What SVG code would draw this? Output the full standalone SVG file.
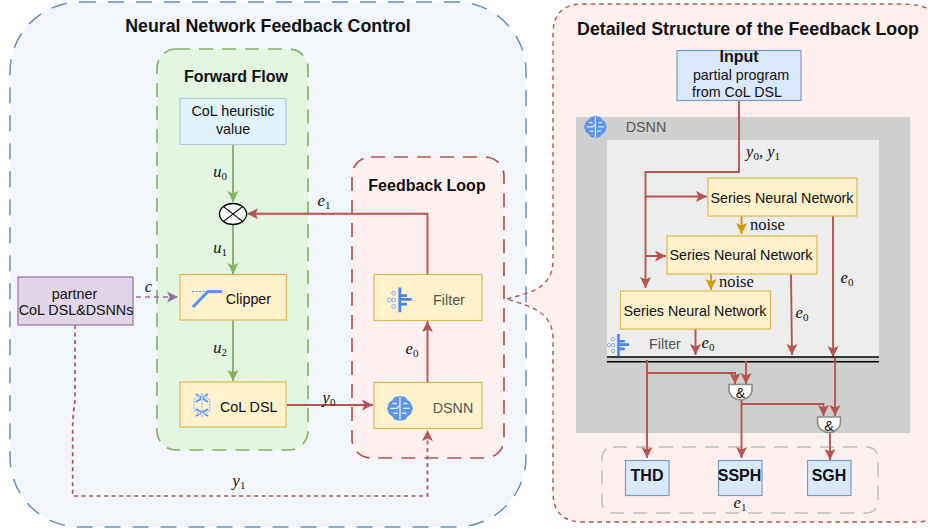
<svg xmlns="http://www.w3.org/2000/svg" width="928" height="529" viewBox="0 0 928 529">
<style>
text{font-family:"Liberation Sans",Arial,sans-serif;fill:#111;text-anchor:middle}
.t{font-weight:bold;font-size:17.800px}
.t2{font-weight:bold;font-size:16px}
.n{font-size:14.300px}
.g{font-size:14.300px;fill:#555}
.m{font-family:"Liberation Serif","Times New Roman",serif;font-style:italic;font-size:16.500px}
.m tspan{font-style:normal;font-size:11px}
.nz{font-family:"Liberation Serif","Times New Roman",serif;font-size:16.500px;text-anchor:start}
.y{fill:#fff2cc;stroke:#e0b74f;stroke-width:1.2}
.b{fill:#dae8fc;stroke:#7b9cc9;stroke-width:1.2}
.r{fill:none;stroke:#b85450;stroke-width:1.900}
.rd{fill:none;stroke:#b85450;stroke-width:1.700;stroke-dasharray:4 3.5}
.gr{fill:none;stroke:#82b366;stroke-width:1.900}
.o{fill:none;stroke:#d79b00;stroke-width:1.900}
.gate{fill:#fff;stroke:#8a8a8a;stroke-width:1.6}
</style>
<defs>
<marker id="ar" markerUnits="userSpaceOnUse" markerWidth="13" markerHeight="13" refX="11" refY="5.500" orient="auto"><path d="M0 0L11 5.500L0 11L2.500 5.500Z" fill="#b85450"/></marker>
<marker id="ag" markerUnits="userSpaceOnUse" markerWidth="13" markerHeight="13" refX="11" refY="5.500" orient="auto"><path d="M0 0L11 5.500L0 11L2.500 5.500Z" fill="#82b366"/></marker>
<marker id="ao" markerUnits="userSpaceOnUse" markerWidth="13" markerHeight="13" refX="11" refY="5.500" orient="auto"><path d="M0 0L11 5.500L0 11L2.500 5.500Z" fill="#d79b00"/></marker>
<marker id="ap" markerUnits="userSpaceOnUse" markerWidth="13" markerHeight="13" refX="11" refY="5.500" orient="auto"><path d="M0 0L11 5.500L0 11L2.500 5.500Z" fill="#9673a6"/></marker>
<path id="detail-outline" d="M507 299C527 293 553 290 553 260V34Q553 4 583 4H900Q945 4 945 34V492Q945 522 915 522H583Q553 522 553 492V338C553 310 525 305 507 299Z"/>
<g id="brain">
<path d="M7 1L12 0L17 1L19 4L22 6L24 11.500L22 17L19 19L17 22L12 23L7 22L5 19L2 17L0 11.500L2 6L5 4Z" fill="#5b93ef"/>
<path d="M12 1V22M3 11.500H9C10 11.500 10 9 12 9M15 11.500H21M5 7H9M15 7H19M6 16H10M14 16H18" stroke="#e4edfc" stroke-width="1.300" fill="none"/>
</g>
<g id="filt">
<path d="M12 0H15V7H21V10H15V11H26V14H15V16H21V19H15V26H12Z" fill="#4a86e8"/>
<g fill="none" stroke="#7aa7f0" stroke-width="1"><circle cx="7" cy="6" r="2"/><circle cx="2.500" cy="13" r="2"/><circle cx="7" cy="13" r="2"/><circle cx="7" cy="20" r="2"/></g>
</g>
</defs>

<g id="detail-panel-fill">
<use href="#detail-outline" fill="#fff0f0"/>
</g>
<g id="control-panel">
<rect x="10" y="2" width="516" height="525" rx="70" fill="#f3f7fd" stroke="#6c8ebf" stroke-width="1.500" stroke-dasharray="16 12"/>
<text class="t" x="268" y="32">Neural Network Feedback Control</text>
</g>
<g id="forward-flow">
<rect x="157" y="49" width="151" height="401" rx="19" fill="#e3f5e0" stroke="#82b366" stroke-width="1.700" stroke-dasharray="14 9"/>
<text class="t2" x="236" y="82">Forward Flow</text>
</g>
<g id="feedback-loop">
<rect x="352" y="157" width="152" height="301" rx="19" fill="#fff1f1" stroke="#b85450" stroke-width="1.700" stroke-dasharray="14 9"/>
<text class="t2" x="427" y="191">Feedback Loop</text>
</g>
<g id="detail-panel">
<use href="#detail-outline" fill="none" stroke="#b85450" stroke-width="1.400" stroke-dasharray="4.500 4"/>
<text class="t" x="748" y="35">Detailed Structure of the Feedback Loop</text>
</g>
<g id="dsnn-region">
<rect x="576" y="117" width="334" height="316" fill="#cfcfcf"/>
<rect x="607" y="140" width="272" height="217" fill="#ededed"/>
<use href="#brain" transform="translate(584 116) scale(0.95)"/>
<text class="g" x="646" y="132">DSNN</text>
<use href="#filt" transform="translate(607 334) scale(.85)"/>
<text class="g" x="665" y="349">Filter</text>
</g>
<g id="outputs-group">
<rect x="602" y="447" width="276" height="66" rx="11" fill="none" stroke="#bdbdbd" stroke-width="1.500" stroke-dasharray="14 9"/>
</g>

<g id="connectors">
<path class="gr" d="M233 144V202" marker-end="url(#ag)"/>
<path class="gr" d="M233 225V274" marker-end="url(#ag)"/>
<path class="gr" d="M233 320V381" marker-end="url(#ag)"/>
<path d="M136 297H178" fill="none" stroke="#9673a6" stroke-width="1.700" stroke-dasharray="5 4" marker-end="url(#ap)"/>
<path class="rd" d="M75 325V400L72.700 420V496H427.500V430" marker-end="url(#ar)"/>
<path class="r" d="M427.500 274V213.700H247" marker-end="url(#ar)"/>
<path class="r" d="M427.500 382V321" marker-end="url(#ar)"/>
<path class="r" d="M287 405H373" marker-end="url(#ar)"/>
<path class="r" d="M739 100V172H645.500V288" marker-end="url(#ar)"/>
<path class="r" d="M645.500 196.500H707" marker-end="url(#ar)"/>
<path class="r" d="M645.500 256H666" marker-end="url(#ar)"/>
<path class="o" d="M741.500 216V234" marker-end="url(#ao)"/>
<path class="o" d="M711 274V290" marker-end="url(#ao)"/>
<path class="r" d="M695.500 329V355" marker-end="url(#ar)"/>
<path class="r" d="M791 274L792 355" marker-end="url(#ar)"/>
<path class="r" d="M833 216V357" marker-end="url(#ar)"/>
<path d="M607 357H879M607 361.700H879" stroke="#000" stroke-width="1.500" fill="none"/>
<path class="r" d="M647 360V458" marker-end="url(#ar)"/>
<path class="r" d="M647 373H735V384" marker-end="url(#ar)"/>
<path class="r" d="M746 361V384" marker-end="url(#ar)"/>
<path class="r" d="M741.500 400V458" marker-end="url(#ar)"/>
<path class="r" d="M741.500 404H823.500V416" marker-end="url(#ar)"/>
<path class="r" d="M835 358V416" marker-end="url(#ar)"/>
<path class="r" d="M830 433V460" marker-end="url(#ar)"/>
</g>

<g id="heuristic"><rect x="180" y="98.500" width="106" height="46" fill="#e0f3fd" stroke="#b3cbd9" stroke-width="1.200"/><text class="n" x="233" y="116">CoL heuristic</text><text class="n" x="233" y="134">value</text></g>
<g id="mixer"><ellipse cx="233" cy="214" rx="13.500" ry="10.500" fill="#fff" stroke="#000" stroke-width="1.300"/><path d="M223.500 206.600L242.500 221.400M242.500 206.600L223.500 221.400" stroke="#000" stroke-width="1.200"/></g>
<g id="clipper"><rect class="y" x="180" y="274.500" width="106.500" height="45.500"/><path d="M193 307L208 291.500H222" fill="none" stroke="#5b93ef" stroke-width="3.200"/><path d="M192 291.500H208" stroke="#5b93ef" stroke-width="1.200" stroke-dasharray="2 1.500"/><text class="n" x="248.400" y="304">Clipper</text></g>
<g id="col-dsl"><rect class="y" x="180" y="382" width="106" height="45"/><path d="M196 394L208 402M208 394L196 402M196 409L208 416M208 409L196 416" stroke="#5b93ef" stroke-width="1.800" fill="none"/><path d="M194 400L202 394L210 400V410L202 416L194 410ZM202 394V416" fill="none" stroke="#b5cff7" stroke-width="2" stroke-dasharray="2 1"/><text class="n" x="248.700" y="412">CoL DSL</text></g>
<g id="partner"><rect x="18" y="277" width="115" height="48" fill="#e1d5e7" stroke="#9673a6" stroke-width="1.200"/><text class="n" x="74.500" y="299">partner</text><text class="n" x="76" y="315">CoL DSL&amp;DSNNs</text></g>
<g id="filter"><rect class="y" x="374" y="274.500" width="108" height="46"/><use href="#filt" transform="translate(387 287.500) scale(.95)"/><text class="g" x="449" y="305">Filter</text></g>
<g id="dsnn"><rect class="y" x="374" y="382.500" width="108" height="46"/><use href="#brain" transform="translate(387 396) scale(1.080)"/><text class="g" x="453" y="413">DSNN</text></g>
<g id="input"><rect class="b" x="677" y="50.500" width="124" height="50"/><text class="t2" x="739" y="62">Input</text><text class="n" x="741" y="80">partial program</text><text class="n" x="737" y="97">from CoL DSL</text></g>
<g id="snn1"><rect class="y" x="708" y="178" width="149" height="38"/><text class="n" x="782" y="203">Series Neural Network</text></g>
<g id="snn2"><rect class="y" x="667" y="236" width="150" height="38"/><text class="n" x="741" y="260">Series Neural Network</text></g>
<g id="snn3"><rect class="y" x="620.500" y="291" width="150" height="38"/><text class="n" x="695" y="316">Series Neural Network</text></g>
<g id="and1"><path class="gate" d="M729 384.500H752V389C752 396 746 400 740.500 400C735 400 729 396 729 389Z"/><text class="n" x="740.500" y="398">&amp;</text></g>
<g id="and2"><path class="gate" d="M817.500 417H840.500V421.500C840.500 428.500 834.500 432.500 829 432.500C823.500 432.500 817.500 428.500 817.500 421.500Z"/><text class="n" x="829" y="431">&amp;</text></g>
<g id="thd"><rect class="b" x="625.500" y="460.500" width="43.500" height="35"/><text class="t2" x="647" y="481">THD</text></g>
<g id="ssph"><rect class="b" x="718.500" y="460.500" width="43.500" height="35"/><text class="t2" x="739.500" y="481">SSPH</text></g>
<g id="sgh"><rect class="b" x="807.500" y="460.500" width="43.500" height="35"/><text class="t2" x="829" y="481">SGH</text></g>

<g id="labels">
<text class="m" x="220" y="177">u<tspan dy="3">0</tspan></text>
<text class="m" x="220" y="253">u<tspan dy="3">1</tspan></text>
<text class="m" x="220" y="353">u<tspan dy="3">2</tspan></text>
<text class="m" x="148.500" y="292">c</text>
<text class="m" x="239" y="486">y<tspan dy="3">1</tspan></text>
<text class="m" x="324" y="206">e<tspan dy="3">1</tspan></text>
<text class="m" x="412" y="354">e<tspan dy="3">0</tspan></text>
<text class="m" x="329" y="403">y<tspan dy="3">0</tspan></text>
<text class="m" x="763" y="157">y<tspan dy="3">0</tspan><tspan dy="-3" style="font-size:16.500px;font-style:italic">, y</tspan><tspan dy="3">1</tspan></text>
<text class="nz" x="750" y="230">noise</text>
<text class="nz" x="719" y="287">noise</text>
<text class="m" x="708" y="348">e<tspan dy="3">0</tspan></text>
<text class="m" x="802" y="318">e<tspan dy="3">0</tspan></text>
<text class="m" x="847" y="283">e<tspan dy="3">0</tspan></text>
<text class="m" x="740" y="508">e<tspan dy="3">1</tspan></text>
</g>
</svg>
